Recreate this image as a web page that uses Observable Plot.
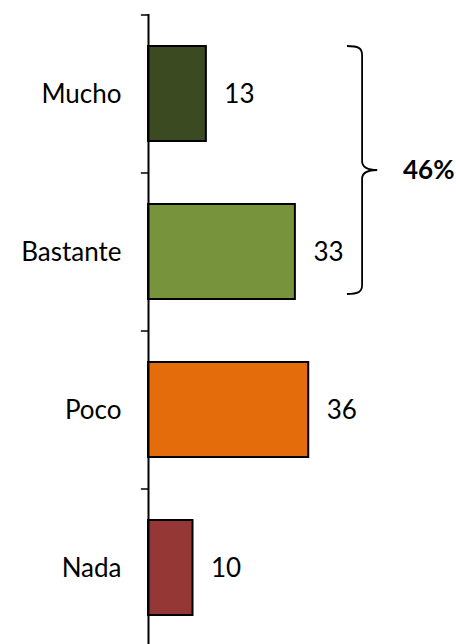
<!DOCTYPE html>
<html><head><meta charset="utf-8">
<script src="https://cdn.jsdelivr.net/npm/d3@7"></script>
<script src="https://cdn.jsdelivr.net/npm/@observablehq/plot@0.6"></script>
<style>body{margin:0;background:#fff;overflow:hidden}</style>
</head><body><div id="chart"></div>
<script>
const categories = ["Mucho", "Bastante", "Poco", "Nada"];
const values = [13, 33, 36, 10];
const colors = ["#3c4a21", "#77933c", "#e46c0a", "#953735"];
const bracketGroup = ["Mucho", "Bastante"];

const data = categories.map((c, i) => ({cat: c, value: values[i], color: colors[i]}));
const groupTotal = d3.sum(data.filter(d => bracketGroup.includes(d.cat)), d => d.value);

const W = 456, H = 646, MT = 14;
const step = (H - MT) / categories.length;
const FONT = "Lato, 'Open Sans', sans-serif";

function bracket(index, scales) {
  const {x, y} = scales;
  const bw = y.bandwidth();
  const top = y(bracketGroup[0]);
  const bottom = y(bracketGroup[bracketGroup.length - 1]) + bw - 5;
  const mid = (top + bottom) / 2;
  const x0 = x(44.7), x1 = x(48.1), x2 = x(51.5);
  const ns = "http://www.w3.org/2000/svg";
  const g = document.createElementNS(ns, "g");
  const p = document.createElementNS(ns, "path");
  p.setAttribute("d",
    `M${x0},${top} C${x1 - 4},${top} ${x1},${top + 2} ${x1},${top + 9}` +
    ` L${x1},${mid - 9} C${x1},${mid - 3} ${x1 + 4},${mid} ${x2},${mid}` +
    ` C${x1 + 4},${mid} ${x1},${mid + 3} ${x1},${mid + 9}` +
    ` L${x1},${bottom - 9} C${x1},${bottom - 2} ${x1 - 4},${bottom} ${x0},${bottom}`);
  p.setAttribute("fill", "none");
  p.setAttribute("stroke", "#000");
  p.setAttribute("stroke-width", "1.8");
  g.appendChild(p);
  const t = document.createElementNS(ns, "text");
  t.setAttribute("x", x(57.3));
  t.setAttribute("y", mid);
  t.setAttribute("dy", "0.35em");
  t.setAttribute("text-anchor", "start");
  t.setAttribute("fill", "#000");
  t.style.font = `bold 26px ${FONT}`;
  t.textContent = groupTotal + "%";
  g.appendChild(t);
  return g;
}

const chart = Plot.plot({
  width: W, height: H,
  marginTop: MT, marginBottom: 0, marginLeft: 148, marginRight: 0,
  x: {domain: [0, 69.2], axis: null},
  y: {domain: categories, paddingInner: 0.4, paddingOuter: 0.2, axis: null},
  color: {type: "identity"},
  style: {fontFamily: FONT, fontSize: "26px", background: "#fff", overflow: "visible"},
  marks: [
    Plot.barX(data, {y: "cat", x: "value", fill: "color", stroke: "#000", strokeWidth: 2}),
    Plot.text(data, {y: "cat", x: "value", text: d => String(d.value), textAnchor: "start", dx: 18, dy: 1, fontSize: 26, fill: "#000"}),
    Plot.text(data, {y: "cat", x: 0, text: "cat", textAnchor: "end", dx: -27, dy: 1, fontSize: 26, fill: "#000"}),
    Plot.ruleY(categories, {y: d => d, x1: -1.6, x2: 0, dy: -step / 2, stroke: "#000", strokeWidth: 1.5}),
    Plot.ruleX([0], {stroke: "#000", strokeWidth: 2}),
    bracket
  ]
});
document.getElementById("chart").appendChild(chart);
</script>
</body></html>
